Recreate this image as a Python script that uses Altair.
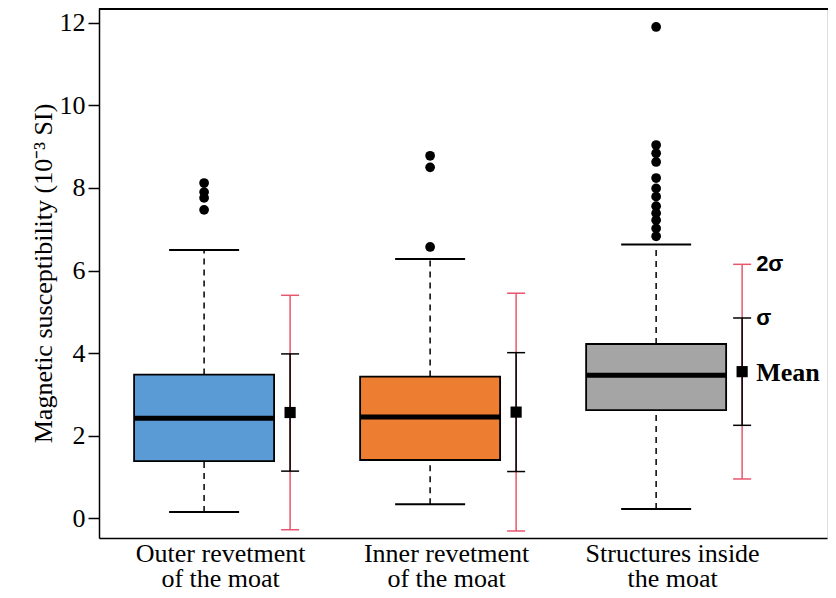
import altair as alt
import pandas as pd

# ---------------- data ----------------
groups = ["Outer revetment of the moat", "Inner revetment of the moat", "Structures inside the moat"]
label_lines = [["Outer revetment", "of the moat"],
               ["Inner revetment", "of the moat"],
               ["Structures inside", "the moat"]]
colors = ["#5B9BD5", "#ED7D31", "#A5A5A5"]

whisker_low = [0.15, 0.34, 0.22]
q1 = [1.38, 1.41, 2.62]
median = [2.42, 2.45, 3.46]
q3 = [3.48, 3.43, 4.22]
whisker_high = [6.50, 6.28, 6.63]

means = [2.56, 2.57, 3.55]
sds = [1.42, 1.44, 1.30]

outliers_g1 = [8.12, 7.90, 7.76, 7.47]
outliers_g2 = [8.78, 8.50, 6.57]
outliers_g3 = [11.90, 9.04, 8.84, 8.63, 8.24, 7.99, 7.79, 7.56, 7.39, 7.22, 7.02, 6.83]

y_ticks = [0, 2, 4, 6, 8, 10, 12]

# ---------------- tables ----------------
stats = pd.DataFrame({
    "group": groups,
    "pos": [1, 2, 3],
    "wlo": whisker_low, "q1": q1, "med": median, "q3": q3, "whi": whisker_high,
    "mean": means, "sd": sds,
})
stats["lo1"] = stats["mean"] - stats["sd"]
stats["hi1"] = stats["mean"] + stats["sd"]
stats["lo2"] = stats["mean"] - 2 * stats["sd"]
stats["hi2"] = stats["mean"] + 2 * stats["sd"]

out_rows = []
for p, vals in zip([1, 2, 3], [outliers_g1, outliers_g2, outliers_g3]):
    for v in vals:
        out_rows.append({"pos": p, "v": v})
outl = pd.DataFrame(out_rows)

g3 = stats.iloc[2]
sig_labels = pd.DataFrame({"pos": [3, 3], "v": [g3["hi2"], g3["hi1"]], "t": ["2σ", "σ"]})
mean_label = pd.DataFrame({"pos": [3], "v": [g3["mean"]], "t": ["Mean"]})

# ---------------- encodings ----------------
SERIF = "Liberation Serif"
label_expr = " : ".join(
    [f"datum.value == {i+1} ? {label_lines[i]!r}" for i in range(2)] + [repr(label_lines[2])]
)

xscale = alt.Scale(domain=[0.535, 3.756], nice=False, zero=False)
yscale = alt.Scale(domain=[-0.48, 12.36], nice=False, zero=False)

x_axis = alt.Axis(values=[1, 2, 3], labelExpr=label_expr, ticks=False, grid=False,
                  title=None, labelFont=SERIF, labelFontSize=26, labelLineHeight=25,
                  labelPadding=2, labelOffset=16, labelColor="black",
                  domainColor="black", domainWidth=1.5)
y_axis = alt.Axis(values=y_ticks, grid=False, title="Magnetic susceptibility (10⁻³  SI)",
                  labelFont=SERIF, labelFontSize=26, labelColor="black", labelPadding=3,
                  tickSize=11, tickWidth=1.5, tickColor="black",
                  domainColor="black", domainWidth=1.5,
                  titleFont=SERIF, titleFontSize=26, titleFontWeight="normal",
                  titleColor="black", titlePadding=3)

X = alt.X("pos:Q", scale=xscale, axis=x_axis)
X2 = alt.X2("pos")


def Y(f):
    return alt.Y(f"{f}:Q", scale=yscale, axis=y_axis)


base = alt.Chart(stats)

whisk_up = base.mark_rule(color="black", strokeWidth=1.5, strokeDash=[6, 5]).encode(
    x=X, y=Y("q3"), y2="whi")
whisk_dn = base.mark_rule(color="black", strokeWidth=1.5, strokeDash=[6, 5]).encode(
    x=X, y=Y("wlo"), y2="q1")
cap_hi = base.mark_rule(color="black", strokeWidth=2, xOffset=-35, x2Offset=35).encode(
    x=X, x2=X2, y=Y("whi"))
cap_lo = base.mark_rule(color="black", strokeWidth=2, xOffset=-35, x2Offset=35).encode(
    x=X, x2=X2, y=Y("wlo"))

boxes = base.mark_rect(stroke="black", strokeWidth=1.8, xOffset=-70, x2Offset=70).encode(
    x=X, x2=X2, y=Y("q1"), y2="q3",
    color=alt.Color("group:N", scale=alt.Scale(domain=groups, range=colors), legend=None))
medians = base.mark_rule(color="black", strokeWidth=5, xOffset=-70, x2Offset=70).encode(
    x=X, x2=X2, y=Y("med"))

RED = "#E8566E"
red_bar = base.mark_rule(color=RED, strokeWidth=1.5, xOffset=86).encode(
    x=X, y=Y("lo2"), y2="hi2")
red_cap_hi = base.mark_rule(color=RED, strokeWidth=1.5, xOffset=77, x2Offset=95).encode(
    x=X, x2=X2, y=Y("hi2"))
red_cap_lo = base.mark_rule(color=RED, strokeWidth=1.5, xOffset=77, x2Offset=95).encode(
    x=X, x2=X2, y=Y("lo2"))
blk_bar = base.mark_rule(color="black", strokeWidth=1.5, xOffset=86).encode(
    x=X, y=Y("lo1"), y2="hi1")
blk_cap_hi = base.mark_rule(color="black", strokeWidth=1.5, xOffset=77, x2Offset=95).encode(
    x=X, x2=X2, y=Y("hi1"))
blk_cap_lo = base.mark_rule(color="black", strokeWidth=1.5, xOffset=77, x2Offset=95).encode(
    x=X, x2=X2, y=Y("lo1"))
mean_pt = base.mark_square(color="black", size=125, opacity=1, xOffset=86).encode(
    x=X, y=Y("mean"))

out_pts = alt.Chart(outl).mark_circle(color="black", size=95, opacity=1).encode(
    x=X, y=Y("v"))

sig_txt = alt.Chart(sig_labels).mark_text(
    align="left", baseline="middle", xOffset=100, font="Liberation Sans",
    fontSize=22, fontWeight="bold", color="black").encode(x=X, y=Y("v"), text="t:N")
mean_txt = alt.Chart(mean_label).mark_text(
    align="left", baseline="middle", xOffset=100, dy=1, font=SERIF,
    fontSize=26, fontWeight="bold", color="black").encode(x=X, y=Y("v"), text="t:N")

top_line = alt.Chart(stats).mark_rule(color="black", strokeWidth=2).encode(
    x=alt.value(0), x2=alt.value(730), y=alt.value(1))

chart = alt.layer(
    top_line,
    whisk_up, whisk_dn, cap_hi, cap_lo, boxes, medians,
    red_bar, red_cap_hi, red_cap_lo, blk_bar, blk_cap_hi, blk_cap_lo, mean_pt,
    out_pts, sig_txt, mean_txt,
).properties(
    width=728, height=530,
    autosize=alt.AutoSizeParams(type="none"),
    padding={"left": 91, "top": 0, "right": 1, "bottom": 52},
).configure_view(stroke=None).configure(background="white")

chart.save("out.html", embed_options={"renderer": "svg", "actions": False})
